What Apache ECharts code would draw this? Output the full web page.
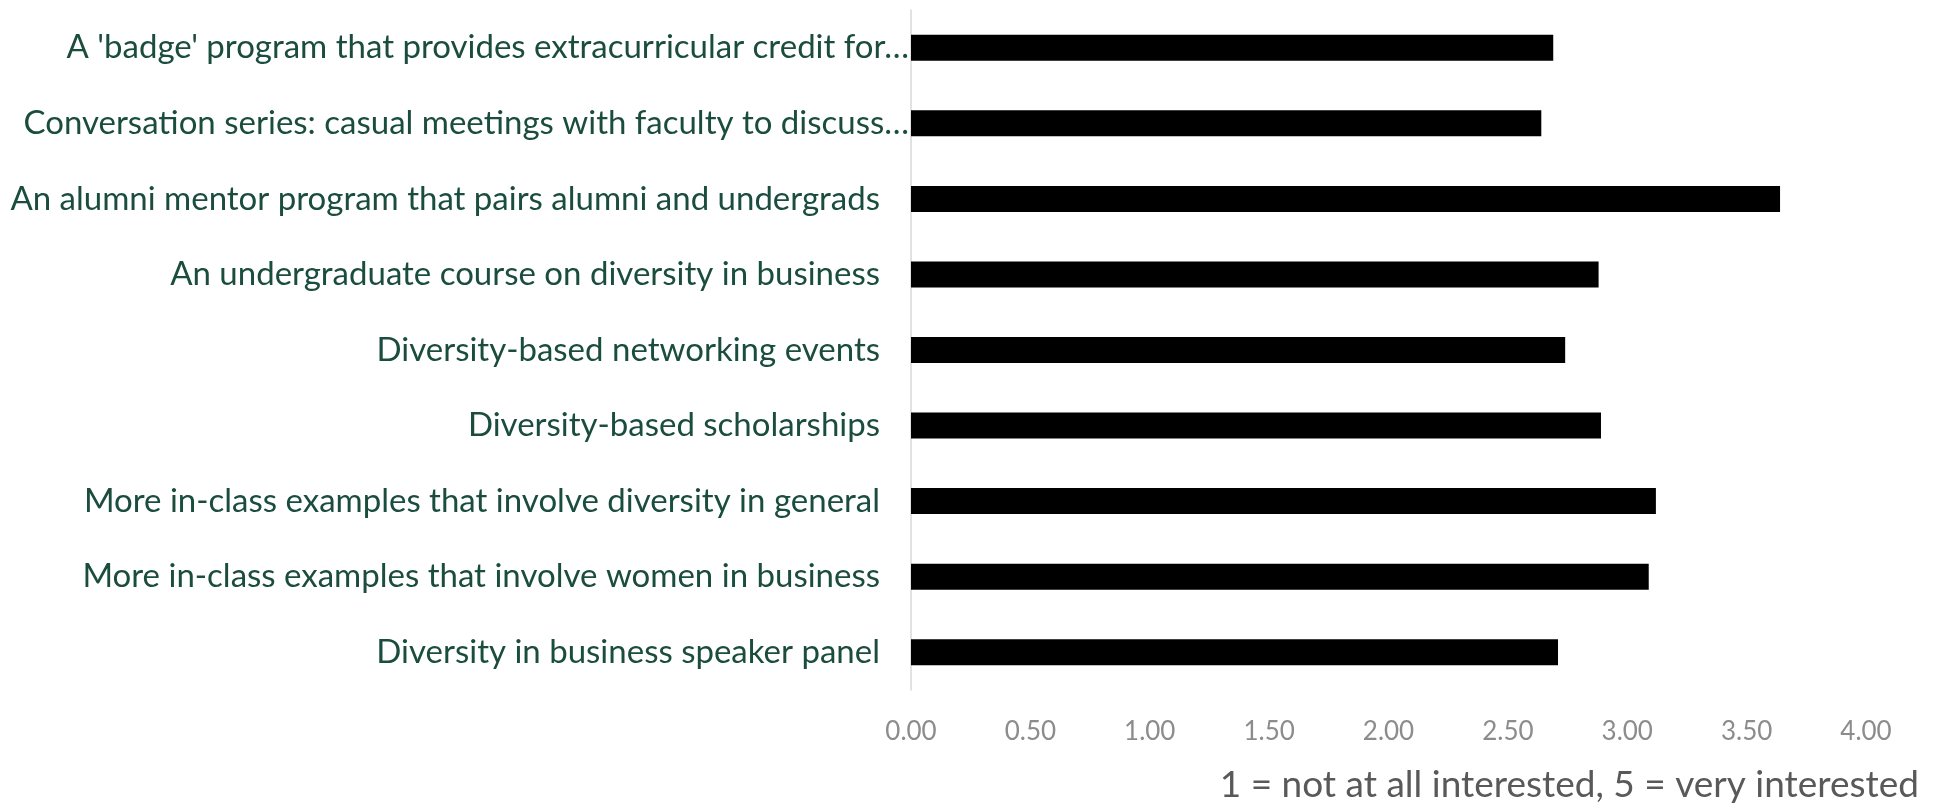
<!DOCTYPE html>
<html>
<head>
<meta charset="utf-8">
<script src="https://cdn.jsdelivr.net/npm/echarts@6/dist/echarts.min.js"></script>
<style>
html,body{margin:0;padding:0;background:#fff;}
#chart{width:1944px;height:805px;}
</style>
</head>
<body>
<div id="chart"></div>
<script>
// Top-to-bottom order as in the reference
const categories = [
  "A 'badge' program that provides extracurricular credit for…",
  "Conversation series: casual meetings with faculty to discuss…",
  "An alumni mentor program that pairs alumni and undergrads",
  "An undergraduate course on diversity in business",
  "Diversity-based networking events",
  "Diversity-based scholarships",
  "More in-class examples that involve diversity in general",
  "More in-class examples that involve women in business",
  "Diversity in business speaker panel"
];
const values = [2.69, 2.64, 3.64, 2.88, 2.74, 2.89, 3.12, 3.09, 2.71];
const axisTitle = "1 = not at all interested, 5 = very interested";

const FONT = "'Gill Sans', 'Gill Sans MT', Lato, sans-serif";
const chart = echarts.init(document.getElementById('chart'), null, {renderer: 'canvas'});
chart.setOption({
  animation: false,
  backgroundColor: '#ffffff',
  title: {
    text: axisTitle,
    right: 25,
    top: 767,
    padding: 0,
    textStyle: {fontFamily: FONT, fontSize: 37, fontWeight: 'normal', color: '#595959'}
  },
  grid: {left: 911, right: 78, top: 10, bottom: 115, containLabel: false},
  xAxis: {
    type: 'value',
    min: 0, max: 4, interval: 0.5,
    axisLine: {show: false},
    axisTick: {show: false},
    splitLine: {show: false},
    axisLabel: {
      margin: 29,
      fontFamily: FONT, fontSize: 26, color: '#8c8c8c',
      formatter: v => v.toFixed(2)
    }
  },
  yAxis: {
    type: 'category',
    inverse: true,
    data: categories,
    axisLine: {show: true, lineStyle: {color: '#d9d9d9', width: 1.5}},
    axisTick: {show: false},
    splitLine: {show: false},
    axisLabel: {
      margin: 2,
      fontFamily: FONT, fontSize: 33, color: '#1b4d3e',
      formatter: v => v.endsWith('…') ? '{t|' + v + '}' : '{n|' + v + '}',
      rich: {
        t: {fontFamily: FONT, fontSize: 33, color: '#1b4d3e', padding: [0, 0, 0, 0]},
        n: {fontFamily: FONT, fontSize: 33, color: '#1b4d3e', padding: [0, 29, 0, 0]}
      }
    }
  },
  series: [{
    type: 'bar',
    data: values,
    barWidth: 26,
    itemStyle: {color: '#000000'}
  }]
});
</script>
</body>
</html>
